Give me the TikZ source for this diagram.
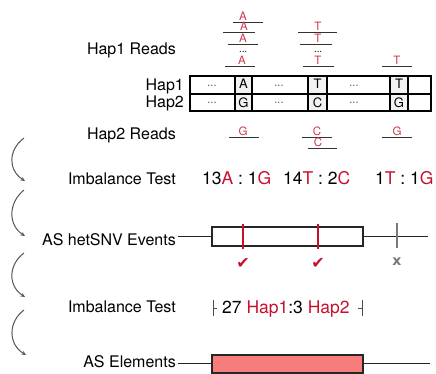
\documentclass[tikz,border=0pt]{standalone}
\usepackage{fontspec}
\setmainfont{TeX Gyre Heros}
\newfontfamily\symfont{DejaVu Sans}
\usetikzlibrary{arrows.meta}
\definecolor{snvred}{RGB}{200,16,46}
\definecolor{readred}{RGB}{205,55,75}
\definecolor{elemfill}{RGB}{247,124,124}
\definecolor{flowgray}{RGB}{85,85,85}
\definecolor{failgray}{RGB}{120,120,120}
% one sequencing read: letter on its short underline
\newcommand\readmark[6]{%
  \draw[rdline] (#3,#2+1.5) -- (#4,#2+1.5);
  \node[rd] (#6) at (#1,#2) {#5};}
% vertical ellipsis of omitted reads, drawn as three small dots
\newcommand\readgap[2]{%
  \foreach \dd in {-2.7,0,2.7} \fill[black!75] (#1+\dd,#2) circle (0.75);}
\begin{document}
\begin{tikzpicture}[x=1pt,y=-1pt,
  lbl/.style={font=\fontsize{16}{19}\selectfont, anchor=base east, inner sep=0pt},
  val/.style={font=\fontsize{17.5}{20}\selectfont, anchor=base west, inner sep=0pt},
  cell/.style={font=\fontsize{13}{15}\selectfont, anchor=base, inner sep=0pt},
  dots/.style={font=\fontsize{11}{12}\selectfont, anchor=base, inner sep=0pt},
  rd/.style={font=\fontsize{11.5}{13}\selectfont, text=readred, anchor=base, inner sep=0pt},
  rdline/.style={line width=0.9pt, black!80},
  flow/.style={draw=flowgray, line width=1pt, -{Stealth[length=4.5pt,width=4pt]}},
  gene/.style={line width=1.4pt, black!85},
  snvmark/.style={line width=2.4pt, snvred},
  failmark/.style={line width=1.6pt, failgray},
  bracket/.style={line width=0.9pt, black!70},
]
\useasboundingbox (0,0) rectangle (436,374);

% ---- row labels ----
\node[lbl] (lhap1r) at (176,55) {Hap1 Reads};
\node[lbl] (lhap1)  at (184,91) {Hap1};
\node[lbl] (lhap2)  at (184,108) {Hap2};
\node[lbl] (lhap2r) at (176,140) {Hap2 Reads};
\node[lbl] (limb1)  at (176,185) {Imbalance Test};
\node[lbl] (lsnv)   at (176,245) {AS hetSNV Events};
\node[lbl] (limb2)  at (176,312) {Imbalance Test};
\node[lbl] (lelem)  at (176,367) {AS Elements};

% ---- haplotype table ----
\fill[gray!10] (235,76) rectangle (252,111);
\fill[gray!10] (308,76) rectangle (327,111);
\fill[gray!10] (390,76) rectangle (408,111);
\draw[line width=1.3pt] (190,94) -- (431,94);
\foreach \xx in {235,252,308,327,390,408}
  \draw[line width=1.5pt] (\xx,76) -- (\xx,111);
\draw[line width=1.8pt] (190,76) rectangle (431,111);

\node[cell] (h1a) at (243.5,89) {A};
\node[cell] (h1b) at (317.5,89) {T};
\node[cell] (h1c) at (399,89)   {T};
\node[cell] (h2a) at (243.5,107.5) {G};
\node[cell] (h2b) at (317.5,107.5) {C};
\node[cell] (h2c) at (399,107.5)   {G};
\foreach \xx/\nm in {212/a,279/b,354/c}{
  \node[dots] (d1\nm) at (\xx,88.5) {···};
  \node[dots] (d2\nm) at (\xx,106) {···};
}

% ---- Hap1 reads ----
\readmark{243}{20.5}{233}{263}{A}{ra1}
\readmark{244}{31}{223}{255}{A}{ra2}
\readmark{243}{42.5}{228}{258}{A}{ra3}
\readgap{243}{51.5}
\readmark{242}{64.5}{225}{255}{A}{ra4}
\readmark{318}{31}{298}{337}{T}{rt1}
\readmark{318}{42.5}{300}{332}{T}{rt2}
\readgap{318}{51.5}
\readmark{318}{64.5}{303}{334}{T}{rt3}
\readmark{397}{64.5}{382}{412}{T}{ru1}

% ---- Hap2 reads ----
\readmark{243}{135.5}{229}{259}{G}{rg1}
\readmark{317}{135.5}{302}{332}{C}{rc1}
\readmark{318}{147}{308}{337}{C}{rc2}
\readmark{397}{135.5}{382}{412}{G}{rg2}

% ---- allele counts ----
\node[val] (cnt1) at (202,185) {13\textcolor{snvred}{A} : 1\textcolor{snvred}{G}};
\node[val] (cnt2) at (283,185) {14\textcolor{snvred}{T} : 2\textcolor{snvred}{C}};
\node[val] (cnt3) at (375,185) {1\textcolor{snvred}{T} : 1\textcolor{snvred}{G}};

% ---- AS hetSNV events on the element ----
\draw[gene] (178,236.5) -- (428,236.5);
\draw[gene, fill=white] (212,227) rectangle (363,246);
\draw[snvmark] (243,224) -- (243,249);
\draw[snvmark] (318,224) -- (318,249);
\draw[failmark] (397,223) -- (397,248);
\node[font=\symfont\fontsize{16}{18}\selectfont, text=snvred, inner sep=0pt] (ok1) at (243,263) {✔};
\node[font=\symfont\fontsize{16}{18}\selectfont, text=snvred, inner sep=0pt] (ok2) at (318,263) {✔};
\node[font=\symfont\bfseries\fontsize{14}{16}\selectfont, text=failgray, inner sep=0pt] (no1) at (397,262) {x};

% ---- pooled imbalance test ----
\draw[bracket] (213,300) -- (213,316) (213,308) -- (217,308);
\draw[bracket] (362,300) -- (362,316) (362,308) -- (358,308);
\node[val] (pool) at (222,313) {27 \textcolor{snvred}{Hap1}:3 \textcolor{snvred}{Hap2}};

% ---- AS element ----
\draw[gene] (178,363.5) -- (430,363.5);
\draw[gene, fill=elemfill] (212,355) rectangle (363,373);

% ---- workflow arrows ----
\coordinate (f1s) at (24,138); \coordinate (f1e) at (25,181);
\coordinate (f2s) at (24,190); \coordinate (f2e) at (25,236);
\coordinate (f3s) at (24,253); \coordinate (f3e) at (25,297);
\coordinate (f4s) at (24,310); \coordinate (f4e) at (26,355);
\draw[flow] (f1s) .. controls (8,150) and (8,170) .. (f1e);
\draw[flow] (f2s) .. controls (8,203) and (8,225) .. (f2e);
\draw[flow] (f3s) .. controls (8,265) and (8,286) .. (f3e);
\draw[flow] (f4s) .. controls (8,322) and (8,344) .. (f4e);
\end{tikzpicture}
\end{document}
